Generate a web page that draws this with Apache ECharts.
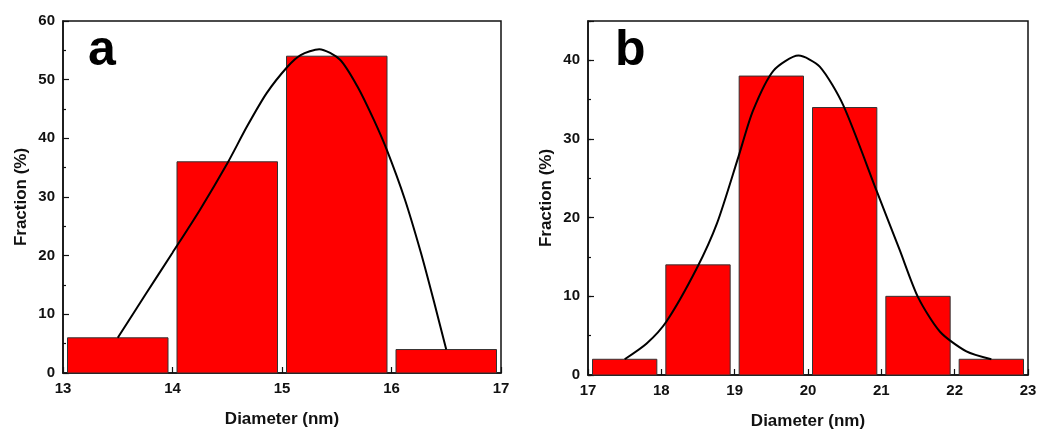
<!DOCTYPE html>
<html>
<head>
<meta charset="utf-8">
<script src="https://cdn.jsdelivr.net/npm/echarts@6/dist/echarts.min.js"></script>
<style>
  html, body { margin: 0; padding: 0; background: #fff; }
  #chart { width: 1040px; height: 432px; }
</style>
</head>
<body>
<div id="chart"></div>
<script>
// panel a: histogram bin edges and fractions (%)
const edgesA = [13, 14, 15, 16, 17]
const fractionA = [6, 36, 54, 4]
// panel a: fitted curve
const fitAX = [13.5, 13.75, 14.0, 14.25, 14.5, 14.68, 14.86, 15.05, 15.17, 15.34, 15.53, 15.69, 15.84, 15.96, 16.12, 16.27, 16.39, 16.5]
const fitAY = [6.0, 13.3, 20.5, 27.8, 35.7, 42.0, 47.7, 52.2, 54.2, 55.2, 53.4, 48.8, 43.1, 37.9, 29.7, 20.4, 12.0, 4.0]

// panel b
const edgesB = [17, 18, 19, 20, 21, 22, 23]
const fractionB = [2, 14, 38, 34, 10, 2]
const fitBX = [17.5, 17.8, 18.07, 18.48, 18.76, 19.05, 19.25, 19.53, 19.87, 20.16, 20.48, 20.94, 21.25, 21.5, 21.8, 22.16, 22.5]
const fitBY = [2.0, 4.0, 6.8, 13.5, 19.3, 27.7, 33.6, 38.7, 40.6, 39.2, 34.3, 23.3, 15.9, 9.9, 5.5, 3.0, 2.0]

// tick labels
const yLabelsA = [0, 10, 20, 30, 40, 50, 60]
const yLabelsB = [0, 10, 20, 30, 40]

const font = "'Liberation Sans', Arial, sans-serif"
const ink = '#111'

const binData = (edges, vals) => vals.map((v, i) => [edges[i], edges[i + 1], v])
const zip = (xs, ys) => xs.map((x, i) => [x, ys[i]])

const renderBin = (params, api) => {
  const gap = 4.5
  const top = api.coord([api.value(0), api.value(2)])
  const bot = api.coord([api.value(1), 0])
  return {
    type: 'rect',
    shape: { x: top[0] + gap, y: top[1], width: bot[0] - top[0] - 2 * gap, height: bot[1] - top[1] },
    style: { fill: '#ff0000', stroke: '#333', lineWidth: 1 }
  }
}

const xAxisBase = (gridIndex, min, max) => ({
  type: 'value',
  gridIndex,
  min,
  max,
  interval: 1,
  name: 'Diameter (nm)',
  nameLocation: 'middle',
  nameGap: 38,
  nameTextStyle: { fontFamily: font, fontWeight: 'bold', fontSize: 17, color: ink },
  axisLine: { show: true, lineStyle: { color: ink, width: 1.5 } },
  axisTick: { show: true, inside: true, length: 6, lineStyle: { color: ink, width: 1.2 } },
  minorTick: { show: true, splitNumber: 2, length: 3, lineStyle: { color: ink, width: 1.2 } },
  axisLabel: { margin: 8, fontFamily: font, fontWeight: 'bold', fontSize: 15, color: ink },
  splitLine: { show: false }
})

const yAxisBase = (gridIndex, max, labels) => ({
  type: 'value',
  gridIndex,
  min: 0,
  max,
  interval: 10,
  name: 'Fraction (%)',
  nameLocation: 'middle',
  nameGap: 33,
  nameTextStyle: { fontFamily: font, fontWeight: 'bold', fontSize: 17, color: ink },
  axisLine: { show: true, lineStyle: { color: ink, width: 1.5 } },
  axisTick: { show: true, inside: true, length: 6, lineStyle: { color: ink, width: 1.2 } },
  axisLabel: {
    margin: 8, fontFamily: font, fontWeight: 'bold', fontSize: 15, color: ink,
    formatter: v => labels.includes(v) ? String(v) : ''
  },
  splitLine: { show: false }
})

const chart = echarts.init(document.getElementById('chart'), null, { renderer: 'canvas' })

const yA = yAxisBase(0, 60, yLabelsA)
yA.minorTick = { show: true, splitNumber: 2, length: 3, lineStyle: { color: ink, width: 1.2 } }
const yB = yAxisBase(1, 45, yLabelsB)
// short ticks at every 5 for panel b (max 45 is not a multiple of 10)
const yBMinor = {
  type: 'value', gridIndex: 1, min: 0, max: 45, interval: 5, position: 'left',
  axisLine: { show: false },
  axisTick: { show: true, inside: true, length: 3, lineStyle: { color: ink, width: 1.2 } },
  axisLabel: { show: false },
  splitLine: { show: false }
}

chart.setOption({
  animation: false,
  backgroundColor: '#fff',
  grid: [
    { left: 63, right: 539, top: 21, bottom: 59, show: true, borderColor: ink, borderWidth: 1.5, outerBoundsMode: 'none' },
    { left: 588, right: 12, top: 21, bottom: 57, show: true, borderColor: ink, borderWidth: 1.5, outerBoundsMode: 'none' }
  ],
  xAxis: [xAxisBase(0, 13, 17), xAxisBase(1, 17, 23)],
  yAxis: [yA, yB, yBMinor],
  graphic: [
    { type: 'text', left: 88, top: 26, style: { text: 'a', font: `bold 50px ${font}`, fill: '#000' } },
    { type: 'text', left: 615, top: 26, style: { text: 'b', font: `bold 50px ${font}`, fill: '#000' } }
  ],
  series: [
    {
      type: 'custom', xAxisIndex: 0, yAxisIndex: 0,
      renderItem: renderBin, encode: { x: [0, 1], y: 2 },
      data: binData(edgesA, fractionA), z: 2
    },
    {
      type: 'line', xAxisIndex: 0, yAxisIndex: 0, smooth: 0.25, showSymbol: false,
      lineStyle: { color: '#000', width: 2 }, data: zip(fitAX, fitAY), z: 3
    },
    {
      type: 'custom', xAxisIndex: 1, yAxisIndex: 1,
      renderItem: renderBin, encode: { x: [0, 1], y: 2 },
      data: binData(edgesB, fractionB), z: 2
    },
    {
      type: 'line', xAxisIndex: 1, yAxisIndex: 1, smooth: 0.25, showSymbol: false,
      lineStyle: { color: '#000', width: 2 }, data: zip(fitBX, fitBY), z: 3
    }
  ]
})

window.addEventListener('resize', () => {
  chart.resize()
}, false)
</script>
</body>
</html>
